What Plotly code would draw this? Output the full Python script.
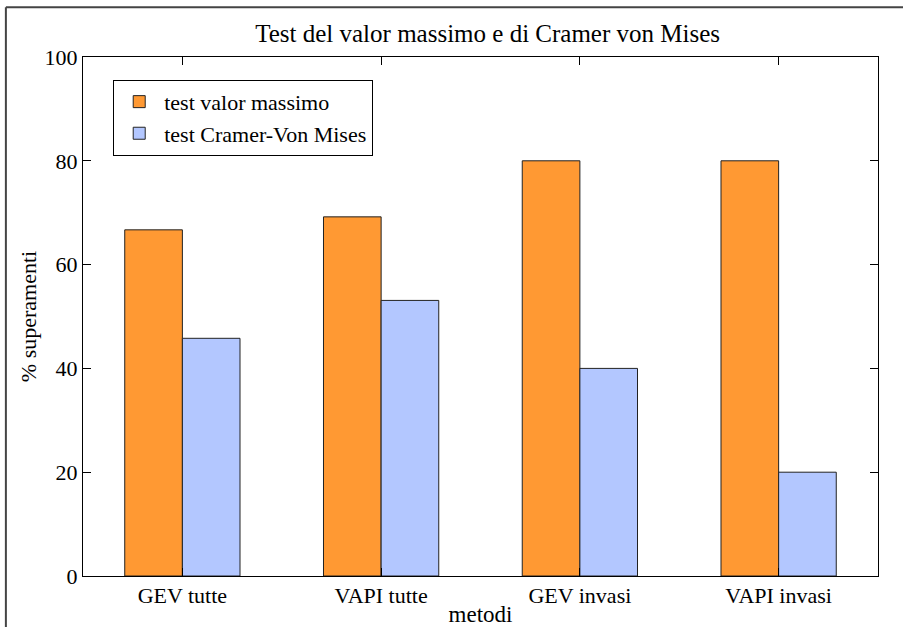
import plotly.graph_objects as go

categories = ["GEV tutte", "VAPI tutte", "GEV invasi", "VAPI invasi"]
max_test = [66.7, 69.2, 80.0, 80.0]
cvm_test = [45.8, 53.1, 40.0, 20.0]
series_names = ["test valor massimo", "test Cramer-Von Mises"]

FONT = "Liberation Serif"
positions = list(range(1, len(categories) + 1))

fig = go.Figure()
fig.add_trace(go.Bar(
    x=positions, y=max_test, name=series_names[0],
    marker=dict(color="#FF9933", line=dict(color="#222222", width=1)),
))
fig.add_trace(go.Bar(
    x=positions, y=cvm_test, name=series_names[1],
    marker=dict(color="#B3C7FF", line=dict(color="#222222", width=1)),
))

fig.update_layout(
    width=903, height=627,
    margin=dict(l=83, r=25, t=57, b=51),
    paper_bgcolor="white", plot_bgcolor="white",
    barmode="group", bargap=0.42, bargroupgap=0,
    font=dict(family=FONT, size=22, color="black"),
    title=dict(text="Test del valor massimo e di Cramer von Mises",
               x=0.54, xanchor="center", y=0.947, yanchor="middle",
               font=dict(family=FONT, size=25, color="black")),
    legend=dict(x=0.038, y=0.956, xanchor="left", yanchor="top",
                bgcolor="white", bordercolor="black", borderwidth=1,
                font=dict(family=FONT, size=22, color="black"),
                itemwidth=40, tracegroupgap=0),
    showlegend=True,
)

fig.update_xaxes(
    range=[0.5, 4.5], tickvals=positions, ticktext=categories,
    ticks="inside", ticklen=8, tickcolor="black",
    showline=True, linecolor="black", linewidth=1, mirror="ticks",
    showgrid=False, zeroline=False, automargin=False,
    title=dict(text="metodi", standoff=0, font=dict(family=FONT, size=23)),
)
fig.update_yaxes(
    range=[0, 100], tickvals=[0, 20, 40, 60, 80, 100],
    ticks="inside", ticklen=8, tickcolor="black",
    showline=True, linecolor="black", linewidth=1, mirror="ticks",
    showgrid=False, zeroline=False, automargin=False,
    title=dict(text="% superamenti", standoff=1, font=dict(family=FONT, size=22)),
)

# outer figure frame (only the top and left edges show in the original)
fig.add_shape(type="line", xref="paper", yref="paper",
              x0=-0.097, y0=1.096, x1=1.2, y1=1.096,
              line=dict(color="#444444", width=2))
fig.add_shape(type="line", xref="paper", yref="paper",
              x0=-0.097, y0=1.096, x1=-0.097, y1=-0.2,
              line=dict(color="#444444", width=2))

# drop the default 8px body margin so the figure sits at the page corner
fig.write_html("out.html", config={"displayModeBar": False},
               post_script="document.body.style.margin='0';")
